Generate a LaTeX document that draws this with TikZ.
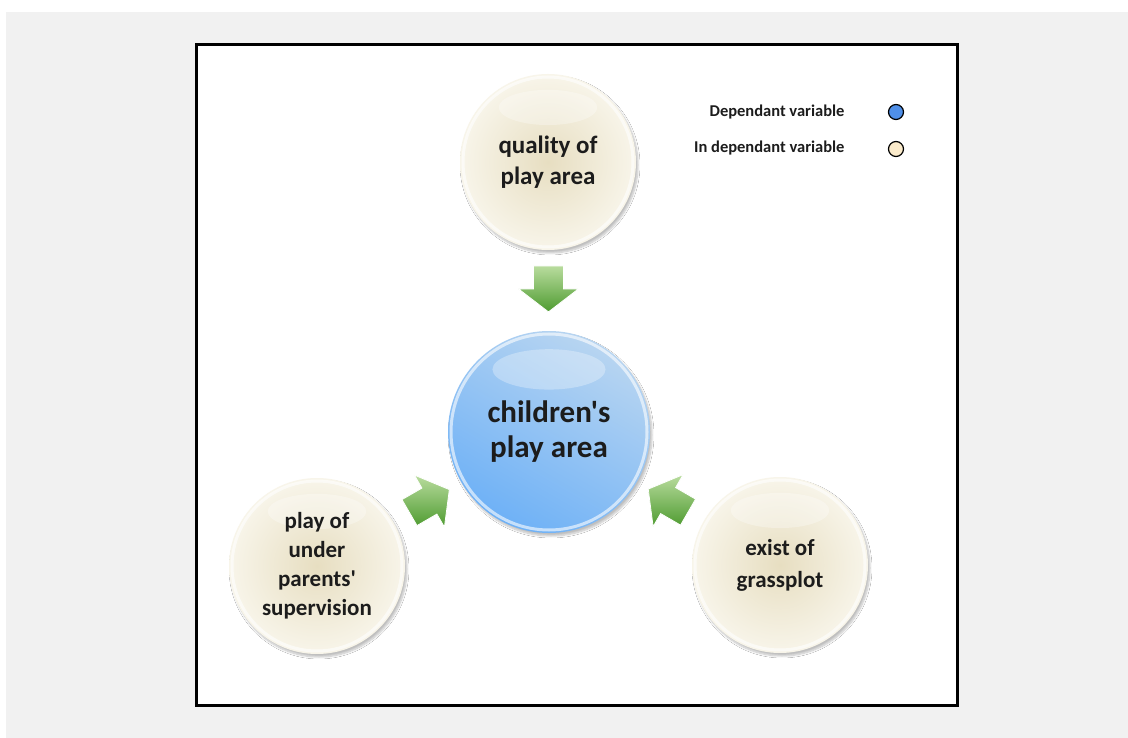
\documentclass[tikz,border=0pt]{standalone}
\usepackage{fontspec}
\setmainfont{Carlito}[Ligatures=TeXOff]
\usetikzlibrary{calc,shadows.blur}
\definecolor{panelgrey}{HTML}{F1F1F1}
\definecolor{beigeIn}{HTML}{E7DEC1}
\definecolor{beigeOut}{HTML}{F8F5EA}
\definecolor{blueA}{HTML}{B8D5F1}
\definecolor{blueB}{HTML}{6EB1F6}
\definecolor{greenL}{HTML}{B9DC9E}
\definecolor{greenD}{HTML}{4E9B30}
\definecolor{txt}{HTML}{1C1C1C}
\definecolor{legblue}{HTML}{4F8FE8}
\definecolor{legbeige}{HTML}{FBEBCB}
\tikzset{
  ball/.style={circle, inner sep=0pt, text=txt, align=center,
    blur shadow={shadow blur steps=8, shadow xshift=2pt, shadow yshift=-3pt, shadow opacity=25},
    path picture={
      \fill[white, opacity=0.3] ($(path picture bounding box.center)!0.62!(path picture bounding box.north)$)
        ellipse ({0.28*#1} and {0.1*#1});
      \draw[white, opacity=0.6, line width=3pt] (path picture bounding box.center) circle ({0.5*#1-3pt});
    }},
  indep/.style={ball=176pt, minimum size=176pt, inner color=beigeIn, outer color=beigeOut},
  dep/.style={ball=202pt, minimum size=202pt, left color=blueA, right color=blueB, shading angle=-30},
  legtext/.style={anchor=east, text=txt, font=\bfseries\fontsize{16.5}{18}\selectfont},
  legdot/.style={circle, draw=black, line width=1.2pt, minimum size=15pt, inner sep=0pt},
  blockarrow/.style={top color=greenL, bottom color=greenD, draw=white, line width=0.8pt}
}
\newcommand{\blockarr}[2]{%
  \begin{scope}[shift={(#1)}, rotate=#2]
    \path[blockarrow] (-23pt,-15pt) -- (0pt,-15pt) -- (0pt,-30pt) -- (23pt,0pt)
      -- (0pt,30pt) -- (0pt,15pt) -- (-23pt,15pt) -- cycle;
  \end{scope}}
\begin{document}
\begin{tikzpicture}[x=1pt, y=-1pt]
  \useasboundingbox (0,0) rectangle (1128,738);
  \fill[panelgrey] (6,12) rectangle (1128,738);
  \draw[line width=3pt, fill=white] (196,45) rectangle (957,705);

  % balls
  \node[indep, font=\bfseries\fontsize{25}{31}\selectfont] (q) at (548,162) {quality of\\play area};
  \node[dep, font=\bfseries\fontsize{31}{35}\selectfont] (c) at (549,432) {children's\\play area};
  \node[indep, font=\bfseries\fontsize{23}{29}\selectfont] (p) at (317,566) {play of\\under\\parents'\\supervision};
  \node[indep, font=\bfseries\fontsize{23}{32}\selectfont] (g) at (780,565) {exist of\\grassplot};

  % block arrows pointing into the centre
  \path (c) -- (q) coordinate[pos=0.52] (aq);
  \path (c) -- (p) coordinate[pos=0.47] (ap);
  \path (c) -- (g) coordinate[pos=0.47] (ag);
  \blockarr{aq}{-90}
  \blockarr{ap}{30}
  \blockarr{ag}{150}

  % legend
  \node[legdot, fill=legblue] (ld) at (896,112) {};
  \node[legdot, fill=legbeige] (li) at (896,149) {};
  \node[legtext] (ldt) at (848,112) {Dependant variable};
  \node[legtext] (lit) at (848,148) {In dependant variable};
\end{tikzpicture}
\end{document}
